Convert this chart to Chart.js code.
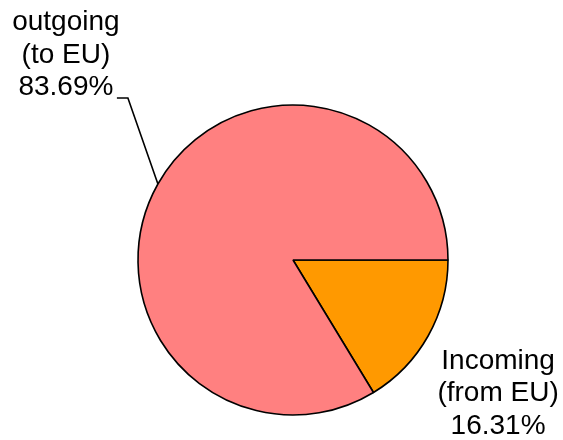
<!DOCTYPE html>
<html>
<head>
<meta charset="utf-8">
<script src="https://cdn.jsdelivr.net/npm/chart.js@4/dist/chart.umd.min.js"></script>
<style>
html,body{margin:0;padding:0;background:#fff;}
#wrap{width:563px;height:440px;}
</style>
</head>
<body>
<div id="wrap"><canvas id="c" width="563" height="440"></canvas></div>
<script>
const categories = ["Incoming (from EU)", "outgoing (to EU)"];
const labelLines = [["Incoming", "(from EU)", "16.31%"], ["outgoing", "(to EU)", "83.69%"]];
const shares = [16.31, 83.69];
const sliceColors = ["#FF9900", "#FF8080"];

const labelPlugin = {
  id: 'outLabels',
  afterDatasetsDraw(chart) {
    const ctx = chart.ctx;
    const meta = chart.getDatasetMeta(0);
    ctx.save();
    ctx.font = '28px "Liberation Sans", Arial, sans-serif';
    ctx.fillStyle = '#000';
    ctx.textAlign = 'center';
    ctx.textBaseline = 'alphabetic';
    ctx.strokeStyle = '#000';
    ctx.lineWidth = 1.6;
    meta.data.forEach((arc, i) => {
      const p = arc.getProps(['x','y','startAngle','endAngle','outerRadius'], true);
      const mid = (p.startAngle + p.endAngle) / 2;
      const ex = p.x + Math.cos(mid) * p.outerRadius;
      const ey = p.y + Math.sin(mid) * p.outerRadius;
      let tx, ty;
      if (i === 1) {
        // leader line
        ctx.beginPath();
        ctx.moveTo(ex, ey);
        ctx.lineTo(ex - 30, ey - 86);
        ctx.lineTo(ex - 41, ey - 86);
        ctx.stroke();
        tx = ex - 92; ty = ey - 154;
      } else {
        tx = ex + 70; ty = ey + 33;
      }
      labelLines[i].forEach((ln, k) => {
        ctx.fillText(ln, tx, ty + k * 32.5);
      });
    });
    ctx.restore();
  }
};

new Chart(document.getElementById('c'), {
  type: 'pie',
  data: {
    labels: categories,
    datasets: [{
      data: shares,
      backgroundColor: sliceColors,
      borderColor: '#000',
      borderWidth: 1.6,
      radius: 155
    }]
  },
  options: {
    responsive: false,
    animation: false,
    rotation: 90,
    layout: { padding: { left: 100, right: 77, top: 100, bottom: 20 } },
    plugins: { legend: { display: false }, tooltip: { enabled: false } }
  },
  plugins: [labelPlugin]
});
</script>
</body>
</html>
